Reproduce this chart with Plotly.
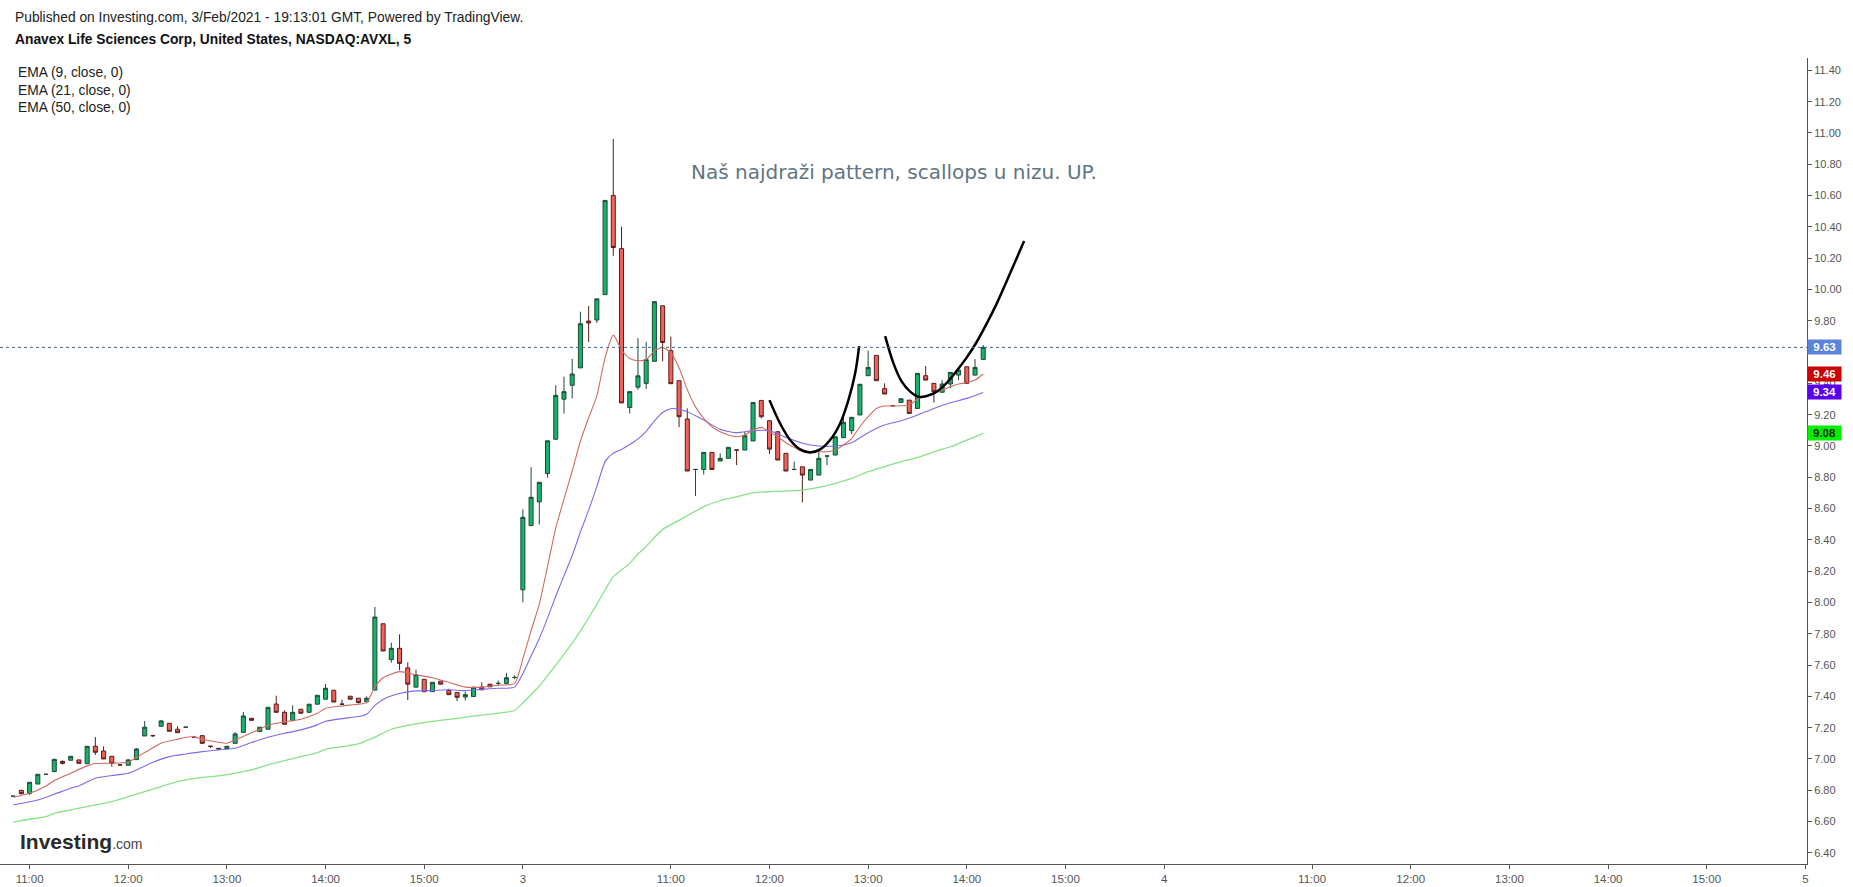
import plotly.graph_objects as go

# ---------------- data (bar index: 0 = Feb 2 09:30, 5-minute bars) ----------------
bar_index = list(range(16, 135))

opens = [6.762, 6.800, 6.780, 6.840, 6.902, 6.920, 6.985, 6.992, 6.994, 6.970,
         7.081, 7.051, 7.017, 6.962, 6.960, 6.996, 7.147, 7.149, 7.209, 7.228,
         7.190, 7.203, 7.139, 7.149, 7.081, 7.068, 7.066, 7.100, 7.170, 7.260,
         7.175, 7.190, 7.351, 7.298, 7.245, 7.318, 7.298, 7.350, 7.382, 7.439,
         7.350, 7.401, 7.388, 7.366, 7.440, 7.864, 7.635, 7.707, 7.582, 7.459,
         7.509, 7.430, 7.497, 7.437, 7.425, 7.396, 7.399, 7.459, 7.478, 7.483,
         7.483, 7.521, 8.081, 8.491, 8.643, 8.824, 9.043, 9.299, 9.388, 9.499,
         9.798, 9.805, 9.967, 10.601, 10.261, 9.246, 9.376, 9.400, 9.541, 9.896,
         9.609, 9.417, 9.172, 8.850, 8.850, 8.959, 8.904, 8.921, 8.974, 8.974,
         9.032, 9.291, 9.161, 9.091, 8.953, 8.850, 8.867, 8.782, 8.814, 8.936,
         8.942, 9.053, 9.098, 9.198, 9.449, 9.579, 9.366, 9.257, 9.278, 9.293,
         9.240, 9.449, 9.400, 9.343, 9.396, 9.453, 9.506, 9.453, 9.553]

highs = [6.762, 6.800, 6.851, 6.902, 6.902, 6.998, 6.990, 7.017, 6.994, 7.081,
         7.140, 7.081, 7.017, 6.962, 6.998, 7.070, 7.243, 7.155, 7.250, 7.228,
         7.209, 7.203, 7.139, 7.149, 7.081, 7.068, 7.081, 7.172, 7.300, 7.260,
         7.203, 7.330, 7.404, 7.311, 7.343, 7.318, 7.350, 7.407, 7.479, 7.439,
         7.379, 7.401, 7.388, 7.400, 7.972, 7.864, 7.743, 7.796, 7.618, 7.572,
         7.509, 7.490, 7.497, 7.449, 7.425, 7.430, 7.459, 7.490, 7.478, 7.502,
         7.550, 7.535, 8.595, 8.865, 8.768, 9.033, 9.388, 9.443, 9.557, 9.858,
         9.894, 9.940, 10.569, 10.962, 10.401, 9.347, 9.689, 9.665, 9.922, 9.896,
         9.699, 9.417, 9.240, 8.850, 8.959, 8.959, 8.953, 8.991, 8.974, 9.091,
         9.278, 9.291, 9.161, 9.091, 8.953, 8.900, 8.867, 8.850, 8.974, 8.936,
         9.059, 9.183, 9.183, 9.394, 9.609, 9.579, 9.400, 9.257, 9.302, 9.293,
         9.464, 9.511, 9.400, 9.421, 9.470, 9.485, 9.506, 9.555, 9.645]

lows = [6.762, 6.775, 6.770, 6.840, 6.902, 6.915, 6.965, 6.992, 6.972, 6.970,
        7.026, 7.000, 6.951, 6.962, 6.960, 6.996, 7.147, 7.140, 7.209, 7.177,
        7.168, 7.203, 7.139, 7.100, 7.070, 7.064, 7.066, 7.100, 7.170, 7.247,
        7.175, 7.190, 7.298, 7.222, 7.245, 7.292, 7.298, 7.350, 7.382, 7.364,
        7.350, 7.382, 7.355, 7.366, 7.440, 7.690, 7.615, 7.567, 7.377, 7.459,
        7.430, 7.430, 7.478, 7.411, 7.370, 7.374, 7.399, 7.442, 7.461, 7.466,
        7.483, 7.510, 8.001, 8.491, 8.498, 8.797, 9.043, 9.207, 9.304, 9.499,
        9.665, 9.786, 9.967, 10.215, 9.275, 9.207, 9.359, 9.364, 9.541, 9.541,
        9.398, 9.120, 8.840, 8.680, 8.818, 8.850, 8.904, 8.921, 8.878, 8.974,
        9.032, 9.176, 8.948, 8.910, 8.840, 8.850, 8.640, 8.782, 8.814, 8.878,
        8.942, 9.053, 9.076, 9.198, 9.449, 9.417, 9.332, 9.257, 9.278, 9.208,
        9.240, 9.421, 9.278, 9.343, 9.368, 9.421, 9.400, 9.450, 9.553]

closes = [6.762, 6.778, 6.851, 6.902, 6.902, 6.998, 6.972, 7.017, 6.972, 7.081,
          7.043, 7.000, 6.972, 6.962, 6.994, 7.064, 7.203, 7.149, 7.243, 7.177,
          7.168, 7.203, 7.139, 7.100, 7.081, 7.064, 7.081, 7.160, 7.275, 7.247,
          7.203, 7.330, 7.298, 7.222, 7.298, 7.292, 7.350, 7.407, 7.452, 7.364,
          7.350, 7.382, 7.360, 7.388, 7.907, 7.690, 7.707, 7.611, 7.478, 7.538,
          7.430, 7.490, 7.478, 7.411, 7.394, 7.411, 7.459, 7.442, 7.461, 7.483,
          7.519, 7.521, 8.544, 8.672, 8.768, 9.033, 9.323, 9.347, 9.460, 9.781,
          9.786, 9.940, 10.569, 10.268, 9.275, 9.347, 9.448, 9.552, 9.922, 9.661,
          9.398, 9.187, 8.840, 8.850, 8.959, 8.850, 8.921, 8.991, 8.974, 9.066,
          9.278, 9.187, 8.980, 8.910, 8.840, 8.850, 8.814, 8.850, 8.921, 8.936,
          9.059, 9.151, 9.183, 9.394, 9.502, 9.417, 9.332, 9.257, 9.302, 9.208,
          9.464, 9.421, 9.347, 9.396, 9.470, 9.485, 9.400, 9.502, 9.630]

# EMA lines (bar index, value)
ema9_x = [16, 18, 20, 21, 23, 25, 26, 28, 30, 32, 34, 36, 37, 38, 39, 41, 42, 43, 45, 47,
          49, 51, 53, 54, 56, 58, 59, 60, 61, 63, 65, 67, 69, 71, 73, 75, 77, 78, 79, 80,
          81, 82, 83, 84, 85, 86, 87, 88, 89, 90, 91, 92, 93, 94, 95, 96, 97, 98, 99, 100,
          101, 102, 103, 104, 105, 106, 107, 108, 109, 110, 111, 112, 113, 114, 115, 116,
          117, 118, 119, 120, 121, 122, 123, 124, 125, 126, 127, 128, 129, 130, 131, 132,
          133, 134]
ema9_y = [6.755, 6.781, 6.828, 6.862, 6.909, 6.956, 6.971, 6.973, 6.981, 7.041, 7.101,
          7.126, 7.139, 7.141, 7.126, 7.107, 7.101, 7.122, 7.167, 7.216, 7.237, 7.254,
          7.292, 7.324, 7.339, 7.350, 7.360, 7.460, 7.519, 7.558, 7.538, 7.519, 7.490,
          7.459, 7.459, 7.471, 7.483, 7.640, 7.820, 7.990, 8.230, 8.475, 8.660, 8.840,
          9.030, 9.180, 9.320, 9.565, 9.708, 9.615, 9.559, 9.545, 9.552, 9.607, 9.630,
          9.595, 9.500, 9.360, 9.250, 9.176, 9.123, 9.091, 9.070, 9.059, 9.070, 9.102,
          9.119, 9.091, 9.059, 9.021, 8.991, 8.963, 8.959, 8.963, 8.963, 8.974, 9.006,
          9.049, 9.123, 9.187, 9.240, 9.255, 9.255, 9.257, 9.262, 9.298, 9.319, 9.336,
          9.357, 9.379, 9.396, 9.404, 9.421, 9.460]

ema21_x = [16, 19, 21, 23, 24, 26, 28, 30, 31, 33, 35, 37, 39, 41, 43, 45, 47, 49, 51, 53,
           54, 56, 58, 59, 60, 61, 63, 65, 67, 69, 71, 73, 75, 77, 78, 79, 80, 81, 82, 83,
           84, 85, 86, 87, 88, 89, 90, 91, 92, 93, 94, 95, 96, 97, 98, 100, 102, 104, 106,
           108, 110, 112, 114, 116, 118, 120, 122, 124, 126, 128, 130, 132, 134]
ema21_y = [6.706, 6.738, 6.775, 6.813, 6.828, 6.877, 6.894, 6.909, 6.930, 6.979, 7.015,
           7.032, 7.047, 7.058, 7.069, 7.105, 7.139, 7.164, 7.186, 7.218, 7.241, 7.258,
           7.271, 7.286, 7.342, 7.380, 7.418, 7.435, 7.437, 7.442, 7.437, 7.445, 7.452,
           7.459, 7.545, 7.658, 7.770, 7.900, 8.040, 8.170, 8.300, 8.450, 8.590, 8.740,
           8.900, 8.954, 8.978, 9.009, 9.045, 9.094, 9.160, 9.214, 9.238, 9.235, 9.219,
           9.166, 9.106, 9.085, 9.098, 9.098, 9.055, 9.017, 9.000, 9.000, 9.021, 9.085,
           9.134, 9.161, 9.198, 9.240, 9.276, 9.304, 9.342]

ema50_x = [16, 18, 20, 21, 23, 25, 28, 30, 32, 34, 36, 39, 41, 43, 45, 47, 49, 51, 53, 54,
           56, 58, 59, 60, 62, 64, 67, 70, 73, 76, 77, 78, 80, 82, 84, 86, 88, 89, 91, 92,
           93, 95, 97, 100, 102, 104, 106, 108, 110, 112, 114, 116, 118, 120, 122, 124,
           126, 128, 130, 132, 134]
ema50_y = [6.596, 6.615, 6.632, 6.653, 6.675, 6.696, 6.728, 6.760, 6.792, 6.824, 6.856,
           6.883, 6.892, 6.909, 6.930, 6.962, 6.990, 7.015, 7.041, 7.062, 7.079, 7.096,
           7.118, 7.140, 7.190, 7.215, 7.240, 7.260, 7.280, 7.300, 7.310, 7.358, 7.466,
           7.600, 7.740, 7.900, 8.080, 8.165, 8.250, 8.310, 8.358, 8.467, 8.525, 8.612,
           8.650, 8.676, 8.701, 8.708, 8.712, 8.718, 8.735, 8.761, 8.793, 8.836, 8.868,
           8.900, 8.925, 8.963, 8.995, 9.038, 9.080]

# hand-drawn scallop curves (bar index, price)
scallop1_x = [108.0, 109.29, 110.51, 111.73, 112.94, 114.16, 115.37, 116.59, 117.60, 118.42, 118.90]
scallop1_y = [9.293, 9.144, 9.038, 8.978, 8.959, 8.978, 9.038, 9.144, 9.293, 9.464, 9.638]
scallop2_x = [122.07, 123.08, 124.09, 125.11, 126.12, 127.13, 128.35, 129.57, 130.78, 132.00,
              133.22, 134.43, 135.65, 137.27, 138.97]
scallop2_y = [9.702, 9.528, 9.411, 9.347, 9.315, 9.319, 9.347, 9.404, 9.481, 9.566,
              9.666, 9.783, 9.911, 10.103, 10.309]

tick_pos = [18, 30, 42, 54, 66, 78, 96, 108, 120, 132, 144, 156, 174, 186, 198, 210, 222, 234]
tick_text = ["11:00", "12:00", "13:00", "14:00", "15:00", "3", "11:00", "12:00", "13:00",
             "14:00", "15:00", "4", "11:00", "12:00", "13:00", "14:00", "15:00", "5"]

price_ticks = [6.40, 6.60, 6.80, 7.00, 7.20, 7.40, 7.60, 7.80, 8.00, 8.20, 8.40, 8.60, 8.80,
               9.00, 9.20, 9.40, 9.60, 9.80, 10.00, 10.20, 10.40, 10.60, 10.80, 11.00, 11.20, 11.40]

header_line = "Published on Investing.com, 3/Feb/2021 - 19:13:01 GMT, Powered by TradingView."
title_line = "Anavex Life Sciences Corp, United States, NASDAQ:AVXL, 5"
ema_labels = ["EMA (9, close, 0)", "EMA (21, close, 0)", "EMA (50, close, 0)"]
note_text = "Naš najdraži pattern, scallops u nizu. UP."
note_pos = (123.2, 10.75)

# ---------------- layout geometry ----------------
W, H = 1853, 887
ML, MR, MT, MB = 0, 46, 58, 23
PW, PH = W - ML - MR, H - MT - MB
FONT = "Liberation Sans, Arial, sans-serif"


def px(xp):
    return (xp - ML) / PW


def py(yp):
    return (H - MB - yp) / PH


fig = go.Figure()

fig.add_trace(go.Scatter(x=ema50_x, y=ema50_y, mode="lines", line=dict(color="#86e486", width=1.3, shape="spline", smoothing=0.6), hoverinfo="skip"))
fig.add_trace(go.Scatter(x=ema21_x, y=ema21_y, mode="lines", line=dict(color="#7d6af0", width=1.1, shape="spline", smoothing=0.6), hoverinfo="skip"))
fig.add_trace(go.Scatter(x=ema9_x, y=ema9_y, mode="lines", line=dict(color="#d06a62", width=1.1, shape="spline", smoothing=0.6), hoverinfo="skip"))

fig.add_trace(go.Candlestick(
    x=bar_index, open=opens, high=highs, low=lows, close=closes,
    increasing=dict(line=dict(color="#1d4a33", width=1), fillcolor="#15b36b"),
    decreasing=dict(line=dict(color="#5a1c17", width=1), fillcolor="#f0635b"),
    whiskerwidth=0, hoverinfo="skip",
))

fig.add_trace(go.Scatter(x=scallop1_x, y=scallop1_y, mode="lines", line=dict(color="#000000", width=2.5, shape="spline"), hoverinfo="skip"))
fig.add_trace(go.Scatter(x=scallop2_x, y=scallop2_y, mode="lines", line=dict(color="#000000", width=2.5, shape="spline"), hoverinfo="skip"))

last_close = closes[-1]
fig.add_shape(type="line", xref="paper", x0=0, x1=1, yref="y", y0=last_close, y1=last_close,
              line=dict(color="#3d6a99", width=1, dash="dot"))

price_tags = [(last_close, "#5b83db", "#ffffff"), (ema9_y[-1], "#cc0000", "#ffffff"),
              (ema21_y[-1], "#5a00f0", "#ffffff"), (ema50_y[-1], "#00f000", "#222222")]

# tick labels hidden behind a price tag (as in the reference) are left blank
tick_labels = []
for t in price_ticks:
    covered = any(abs(t - v) < 0.045 for v, _, _ in price_tags)
    tick_labels.append("" if covered else "%.2f" % t)

annotations = []
annotations.append(dict(x=px(13), y=py(17.5), xref="paper", yref="paper", xanchor="left", yanchor="middle",
                        text=header_line, showarrow=False, font=dict(family=FONT, size=13.8, color="#222222")))
annotations.append(dict(x=px(13), y=py(40), xref="paper", yref="paper", xanchor="left", yanchor="middle",
                        text="<b>" + title_line + "</b>", showarrow=False, font=dict(family=FONT, size=13.8, color="#111111")))
for k, lab in enumerate(ema_labels):
    annotations.append(dict(x=px(16), y=py(72.5 + k * 17.6), xref="paper", yref="paper", xanchor="left", yanchor="middle",
                            text=lab, showarrow=False, font=dict(family=FONT, size=13.8, color="#222222")))
annotations.append(dict(x=note_pos[0], y=note_pos[1], xref="x", yref="y", xanchor="center", yanchor="middle",
                        text=note_text, showarrow=False, font=dict(family="DejaVu Sans, Verdana, sans-serif", size=20, color="#5f7585")))
annotations.append(dict(x=px(18), y=py(841), xref="paper", yref="paper", xanchor="left", yanchor="middle",
                        text="<b>Investing</b><span style='font-size:14px;color:#444'>.com</span>", showarrow=False,
                        font=dict(family=FONT, size=21, color="#2a2a2a")))

for val, bg, fg in price_tags:
    annotations.append(dict(x=1, y=val, xref="paper", yref="y", xanchor="left", yanchor="middle",
                            text="<b>%.2f</b>" % val, showarrow=False, bgcolor=bg, width=31, height=12, borderpad=1,
                            align="center", font=dict(family=FONT, size=11.5, color=fg)))

fig.update_layout(
    width=W, height=H, margin=dict(l=ML, r=MR, t=MT, b=MB),
    paper_bgcolor="#ffffff", plot_bgcolor="#ffffff",
    showlegend=False, annotations=annotations, hovermode=False,
    font=dict(family=FONT, size=11, color="#555555"),
)
fig.update_xaxes(range=[14.4, 234.2], tickvals=tick_pos, ticktext=tick_text, showgrid=False, zeroline=False,
                 showline=True, linecolor="#555555", linewidth=1, ticks="outside", ticklen=4, tickcolor="#555555",
                 tickfont=dict(family=FONT, size=11.5, color="#555555"), rangeslider=dict(visible=False), fixedrange=True)
fig.update_yaxes(range=[6.329, 11.479], side="right", tickvals=price_ticks, ticktext=tick_labels, showgrid=False,
                 zeroline=False, showline=True, linecolor="#555555", linewidth=1, ticks="outside", ticklen=4,
                 tickcolor="#555555", tickfont=dict(family=FONT, size=11, color="#555555"), fixedrange=True)

fig.write_html("out.html", config={"displayModeBar": False},
               post_script="document.body.style.margin='0';document.body.style.overflow='hidden';")
